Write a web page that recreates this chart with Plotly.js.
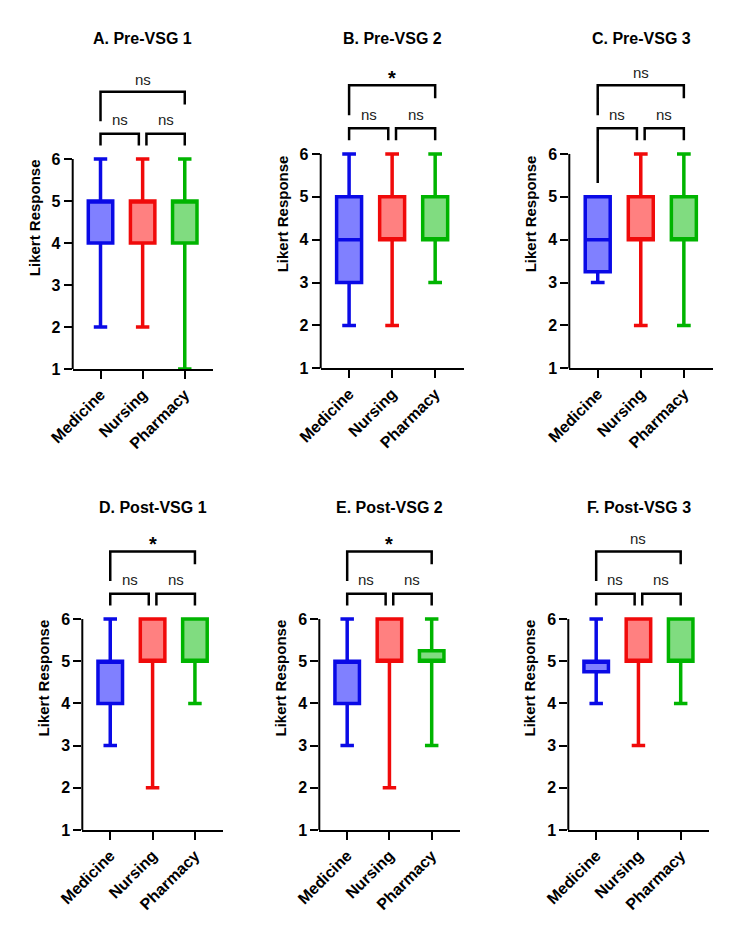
<!DOCTYPE html>
<html>
<head>
<meta charset="utf-8">
<script src="https://cdn.plot.ly/plotly-3.0.1.min.js"></script>
<style>html,body{margin:0;padding:0;background:#fff}#chart{width:744px;height:937px}</style>
</head>
<body>
<div id="chart"></div>
<script>
// ---------- data ----------
const categories = ['Medicine', 'Nursing', 'Pharmacy'];
const panelTitles = ['A. Pre-VSG 1', 'B. Pre-VSG 2', 'C. Pre-VSG 3', 'D. Post-VSG 1', 'E. Post-VSG 2', 'F. Post-VSG 3'];
// per panel, per category (Medicine, Nursing, Pharmacy)
const lowerFence = [[2, 2, 1], [2, 2, 3], [3, 2, 2], [3, 2, 4], [3, 2, 3], [4, 3, 4]];
const q1         = [[4, 4, 4], [3, 4, 4], [3.25, 4, 4], [4, 5, 5], [4, 5, 5], [4.75, 5, 5]];
const median     = [[5, 5, 5], [4, 4, 4], [4, 4, 4], [5, 5, 5], [5, 5, 5], [5, 5, 5]];
const q3         = [[5, 5, 5], [5, 5, 5], [5, 5, 5], [5, 6, 6], [5, 6, 5.25], [5, 6, 6]];
const upperFence = [[6, 6, 6], [6, 6, 6], [5, 6, 6], [6, 6, 6], [6, 6, 6], [6, 6, 6]];
// significance: [Medicine vs Nursing, Nursing vs Pharmacy, Medicine vs Pharmacy]
const sigLabels = [['ns', 'ns', 'ns'], ['ns', 'ns', '*'], ['ns', 'ns', 'ns'], ['ns', 'ns', '*'], ['ns', 'ns', '*'], ['ns', 'ns', 'ns']];
const yTickValues = [1, 2, 3, 4, 5, 6];
const yAxisTitle = 'Likert Response';

// ---------- styling / layout ----------
const lineColors = ['#0a0ae6', '#f00a0a', '#00b400'];
const fillColors = ['#8080ff', '#ff8080', '#80dc80'];
const W = 744, H = 937;
// pixel geometry of each panel: [xLeft, xRight, yBottom(px for y=1), yTop(px for range top)]
const panelPx = [
  [72.7, 213, 369, 66.6],
  [320.7, 464, 368.3, 59.6],
  [569.3, 712.7, 368.3, 59.6],
  [82.3, 223.3, 830, 526.2],
  [319.3, 460, 830, 526.2],
  [568.3, 709, 830, 526.2]
];
const titleYpx = [39, 38, 38, 507, 507, 507];
const yRange = [1, 8.2];
const xRange = [-0.66, 2.67];
const FONT = 'Liberation Sans, Arial, sans-serif';

const data = [];
const layout = {
  width: W, height: H,
  margin: {l: 0, r: 0, t: 0, b: 0},
  paper_bgcolor: '#fff', plot_bgcolor: 'rgba(0,0,0,0)',
  showlegend: false,
  font: {family: FONT, color: '#000'},
  shapes: [], annotations: []
};

panelTitles.forEach((title, p) => {
  const s = p === 0 ? '' : String(p + 1);
  const xa = 'x' + s, ya = 'y' + s;
  const [xl, xr, yb, yt] = panelPx[p];
  layout['xaxis' + s] = {
    domain: [xl / W, xr / W], anchor: ya, range: xRange, type: 'linear',
    tickvals: [0, 1, 2], ticktext: categories, tickangle: -45,
    showline: true, linecolor: '#000', linewidth: 2,
    ticks: 'outside', ticklen: 8, tickwidth: 2, tickcolor: '#000',
    showgrid: false, zeroline: false, fixedrange: true,
    tickfont: {family: FONT, size: 16, weight: 700, color: '#000'}
  };
  layout['yaxis' + s] = {
    domain: [1 - yb / H, 1 - yt / H], anchor: xa, range: yRange,
    tickvals: yTickValues, ticks: 'outside', ticklen: 8, tickwidth: 2, tickcolor: '#000',
    showline: false, showgrid: false, zeroline: false, fixedrange: true,
    tickfont: {family: FONT, size: 16, weight: 700, color: '#000'},
    title: {text: yAxisTitle, standoff: 7, font: {family: FONT, size: 15, weight: 700, color: '#000'}}
  };
  // y axis line from 1 to 6 only
  layout.shapes.push({
    type: 'line', xref: xa + ' domain', yref: ya + ' domain',
    x0: 0, x1: 0, y0: 0, y1: (yTickValues[yTickValues.length - 1] - yRange[0]) / (yRange[1] - yRange[0]),
    line: {color: '#000', width: 2}
  });

  categories.forEach((c, j) => {
    data.push({
      type: 'box', xaxis: xa, yaxis: ya, name: c,
      x: [j], q1: [q1[p][j]], median: [median[p][j]], q3: [q3[p][j]],
      lowerfence: [lowerFence[p][j]], upperfence: [upperFence[p][j]],
      width: 0.58, whiskerwidth: 0.55, boxpoints: false,
      fillcolor: fillColors[j], line: {color: lineColors[j], width: 3.5},
      hoverinfo: 'skip'
    });
  });

  // significance brackets
  const bracket = (xA, xB, yTop, legA, legB) => layout.shapes.push({
    type: 'path', xref: xa, yref: ya,
    path: `M ${xA},${legA} L ${xA},${yTop} L ${xB},${yTop} L ${xB},${legB}`,
    line: {color: '#000', width: 2.5}
  });
  const legGap = 0.32;
  bracket(0, 0.91, 6.6, upperFence[p][0] + legGap, upperFence[p][1] + legGap);
  bracket(1.09, 2, 6.6, upperFence[p][1] + legGap, upperFence[p][2] + legGap);
  bracket(0, 2, 7.6, 6.9, 7.3);

  const sigAnn = (x, y, txt) => {
    const star = txt === '*';
    layout.annotations.push({
      xref: xa, yref: ya, x: x, y: star ? y - 0.12 : y, text: txt, showarrow: false,
      xanchor: 'center', yanchor: 'middle',
      font: {family: FONT, size: star ? 20 : 15, weight: star ? 700 : 400, color: star ? '#000' : '#222'}
    });
  };
  sigAnn(0.455, 6.93, sigLabels[p][0]);
  sigAnn(1.545, 6.93, sigLabels[p][1]);
  sigAnn(1, 7.9, sigLabels[p][2]);

  layout.annotations.push({
    xref: xa + ' domain', yref: 'paper', x: 0.5, y: 1 - titleYpx[p] / H,
    text: title, showarrow: false, xanchor: 'center', yanchor: 'middle',
    font: {family: FONT, size: 16, weight: 700, color: '#000'}
  });
});

Plotly.newPlot('chart', data, layout, {displayModeBar: false, staticPlot: true});
</script>
</body>
</html>
